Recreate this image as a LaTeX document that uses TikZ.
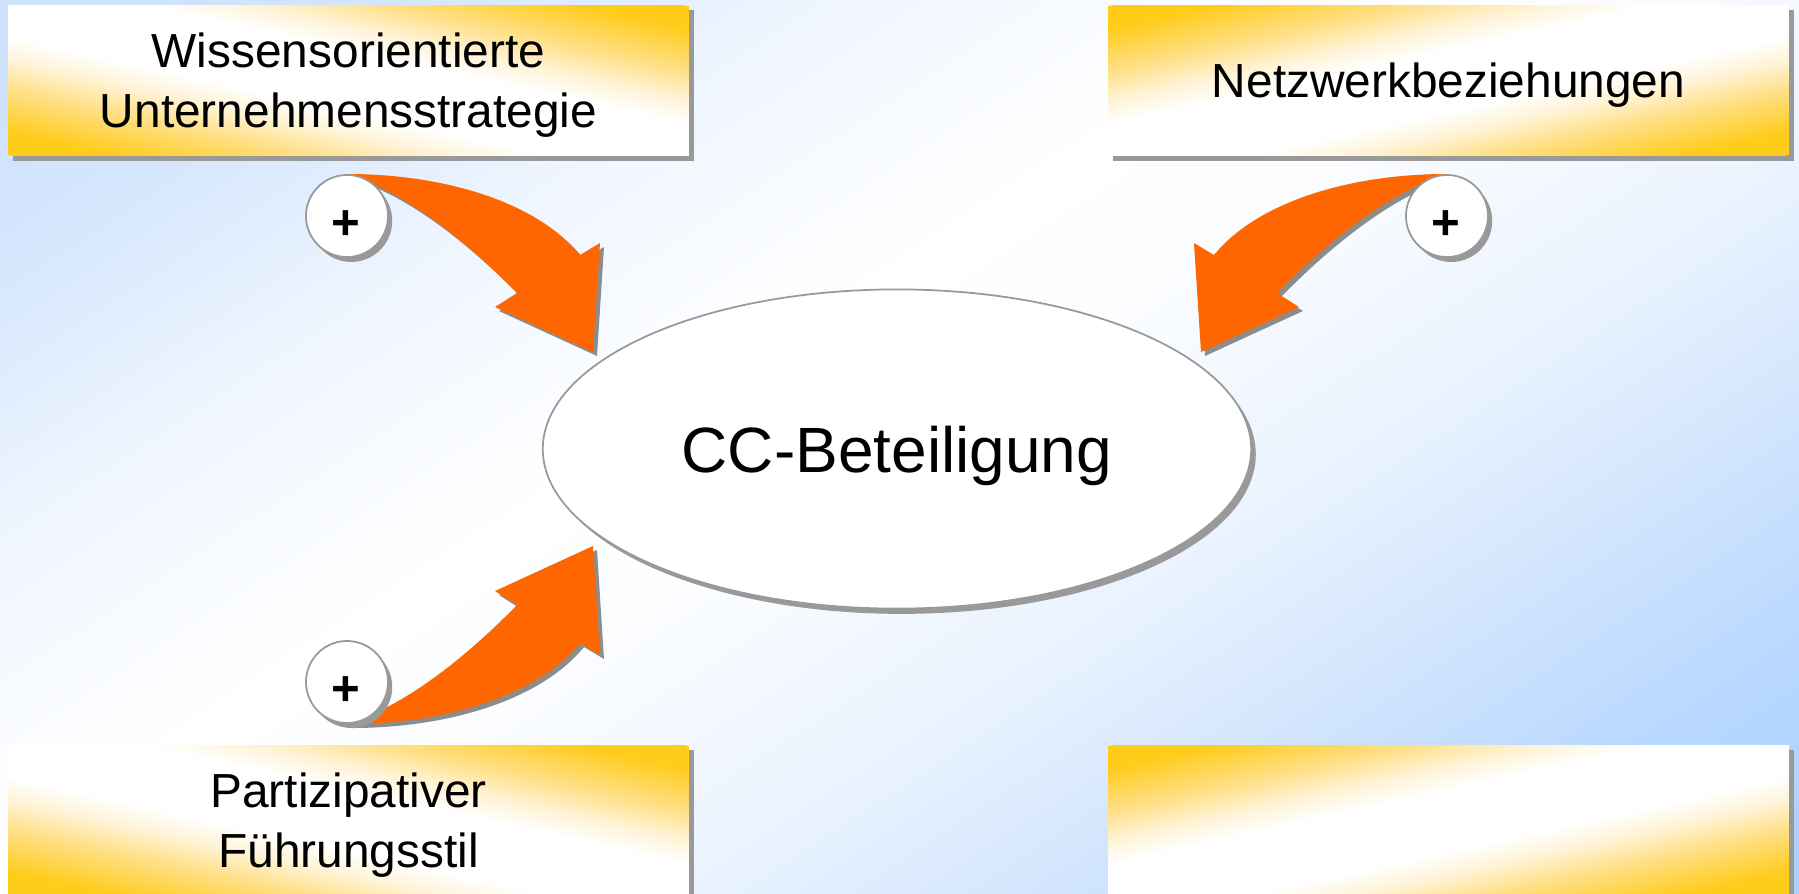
\documentclass[tikz,border=0pt]{standalone}
\usepackage{fontspec}
\setmainfont{Liberation Sans}
\usetikzlibrary{shapes.geometric,shadows,backgrounds}
\definecolor{boxY}{HTML}{FFCC1A}
\definecolor{boxP}{HTML}{FFE08A}
\definecolor{boxQ}{HTML}{FFF4D8}
\definecolor{arrowOrange}{HTML}{FF6600}
\definecolor{shadowGray}{HTML}{999999}
\definecolor{arrowShadow}{HTML}{8C8C8C}
\definecolor{rimGray}{HTML}{999999}
\definecolor{bgA}{HTML}{A6CEFF}
\definecolor{bgB}{HTML}{B8D8FF}
\definecolor{bgC}{HTML}{D8E8FD}
\definecolor{bgD}{HTML}{E8F2FF}
\definecolor{bgE}{HTML}{F4F8FF}
\definecolor{bgF}{HTML}{FBFDFF}
\definecolor{bgG}{HTML}{F0F6FF}
\definecolor{bgH}{HTML}{D4E6FD}
\definecolor{bgI}{HTML}{CBE0FC}
\pgfdeclareverticalshading{boxshade}{100bp}{color(0bp)=(boxY); color(28.75bp)=(boxY); color(36.25bp)=(boxP); color(41bp)=(boxQ); color(45bp)=(white); color(55bp)=(white); color(59bp)=(boxQ); color(63.75bp)=(boxP); color(71.25bp)=(boxY); color(100bp)=(boxY)}
\pgfdeclareverticalshading{bgshade}{100bp}{color(0bp)=(bgA); color(25bp)=(bgA); color(31.8bp)=(bgB); color(38.8bp)=(bgC); color(42.5bp)=(bgD); color(46.75bp)=(bgE); color(50bp)=(bgF); color(54bp)=(white); color(61.25bp)=(bgG); color(68bp)=(bgH); color(75bp)=(bgI); color(100bp)=(bgI)}
\newcommand\ccarrow[2]{%
  \begin{scope}[shift={(#1,#2)}]
    \fill[arrowShadow] (348,174) .. controls (440,174) and (535,200) .. (580,255) -- (600,243) -- (593,352) -- (495,307) -- (517,293) .. controls (470,245) and (410,195) .. (352,176) -- cycle;
  \end{scope}
  \fill[arrowOrange] (348,174) .. controls (440,174) and (535,200) .. (580,255) -- (600,243) -- (593,352) -- (495,307) -- (517,293) .. controls (470,245) and (410,195) .. (352,176) -- cycle;
}
% #1 node name, #2 #3 #4 #5 = cm entries
\newcommand\boxfill[5]{%
  \fill[shadowGray] ([shift={(5,5)}]#1.north west) rectangle ([shift={(5,5)}]#1.south east);
  \begin{scope}
    \clip (#1.north west) rectangle (#1.south east);
    \begin{scope}[transform canvas={cm={#2,#3,#4,#5,(#1.center)}}]
      \shade[shading=boxshade] (-1.1cm,-1cm) rectangle (1.1cm,1cm);
    \end{scope}
  \end{scope}
}
\begin{document}
\begin{tikzpicture}[x=0.01cm,y=-0.01cm,
  infobox/.style={minimum width=6.79cm, minimum height=1.49cm, inner sep=0pt,
     font=\fontsize{13.6}{17}\selectfont, align=center, text depth=0pt},
  plusring/.style={circle, fill=white, draw=rimGray, line width=0.5pt, minimum size=0.82cm, inner sep=0pt,
     drop shadow={shadow xshift=1.2pt, shadow yshift=-1.4pt, fill=shadowGray, opacity=1}},
  plusmark/.style={font=\bfseries\fontsize{14}{14}\selectfont, inner sep=0pt},
  centerell/.style={ellipse, fill=white, draw=rimGray, line width=0.5pt, minimum width=7.08cm, minimum height=3.19cm, inner sep=0pt,
     drop shadow={shadow xshift=1.3pt, shadow yshift=-1.5pt, fill=shadowGray, opacity=1},
     font=\fontsize{18.2}{22}\selectfont, text depth=0pt}
]
\useasboundingbox (0,0) rectangle (1799,893);

% boxes (text)
\node[infobox] (strat) at (348.5,80.5) {Wissensorientierte\\Unternehmensstrategie};
\node[infobox] (netz)  at (1448.5,80.5) {Netzwerkbeziehungen};
\node[infobox] (fuehr) at (348.5,820.5) {Partizipativer\\Führungsstil};
\node[infobox] (empty) at (1448.5,820.5) {};

\begin{scope}[on background layer]
  % page background
  \begin{scope}[transform canvas={cm={9.21,6.01,-4.916,7.538,(8.995cm,-4.465cm)}}]
    \shade[shading=bgshade] (-1cm,-1cm) rectangle (1cm,1cm);
  \end{scope}
  % box fills
  \boxfill{strat}{3.395}{-0.745}{3.395}{0.745}
  \boxfill{fuehr}{3.395}{-0.745}{3.395}{0.745}
  \boxfill{netz}{3.395}{0.745}{-3.395}{0.745}
  \boxfill{empty}{3.395}{0.745}{-3.395}{0.745}
\end{scope}

% central ellipse
\node[centerell] (cc) at (897,449) {CC-Beteiligung};

% arrows
\ccarrow{4}{4}
\begin{scope}[shift={(1794,0)}, xscale=-1]
  \ccarrow{-4}{4}
\end{scope}
\begin{scope}[shift={(0,898)}, yscale=-1]
  \ccarrow{4}{-4}
\end{scope}

% plus circles
\node[plusring] (c1) at (347,216) {};
\node[plusring] (c2) at (1447,216) {};
\node[plusring] (c3) at (347,682) {};
\node[plusmark] (p1) at (346,225) {+};
\node[plusmark] (p2) at (1446,225) {+};
\node[plusmark] (p3) at (346,691) {+};
\end{tikzpicture}
\end{document}
